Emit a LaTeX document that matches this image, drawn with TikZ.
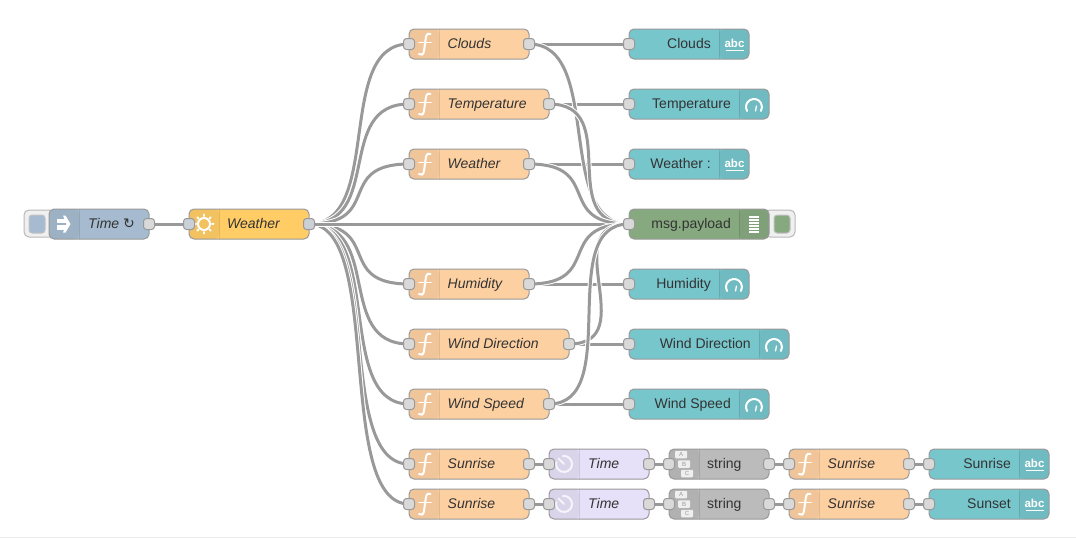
\documentclass[tikz,border=0pt]{standalone}
\usepackage{fontspec}
\setmainfont{Liberation Sans}
\newfontfamily\symfont{DejaVu Sans}
\usetikzlibrary{backgrounds}

\definecolor{fncolor}{HTML}{FDD0A2}
\definecolor{sensorcolor}{HTML}{FFCC66}
\definecolor{injectcolor}{HTML}{A6BBCF}
\definecolor{uicolor}{HTML}{77C6CC}
\definecolor{debugcolor}{HTML}{87A980}
\definecolor{timecolor}{HTML}{E6E0F8}
\definecolor{stringcolor}{HTML}{BBBBBB}
\definecolor{edgecolor}{HTML}{999999}
\definecolor{portcolor}{HTML}{D9D9D9}
\definecolor{inkcolor}{HTML}{333333}

\tikzset{
    flow/.style = {%
        draw = edgecolor, line width = 1pt, rounded corners = 5pt,
        minimum height = 30pt, inner sep = 0pt, outer sep = 0pt, anchor = west
    },
    shadeleft/.style = {%
        flow,
        path picture = {%
            \fill[black, opacity = 0.05] (path picture bounding box.north west)
                rectangle ([xshift = 30pt]path picture bounding box.south west);
            \draw[black, opacity = 0.1] ([xshift = 30pt]path picture bounding box.north west)
                -- ([xshift = 30pt]path picture bounding box.south west);
        }
    },
    shaderight/.style = {%
        flow,
        path picture = {%
            \fill[black, opacity = 0.05] (path picture bounding box.north east)
                rectangle ([xshift = -30pt]path picture bounding box.south east);
            \draw[black, opacity = 0.1] ([xshift = -30pt]path picture bounding box.north east)
                -- ([xshift = -30pt]path picture bounding box.south east);
        }
    },
    leftlabel/.style = {%
        anchor = base west, inner sep = 0pt, text = inkcolor,
        font = \fontsize{14}{16}\selectfont\itshape
    },
    plainlabel/.style = {leftlabel, font = \fontsize{14}{16}\selectfont},
    rightlabel/.style = {plainlabel, anchor = base east},
    port/.style = {%
        draw = edgecolor, line width = 1pt, fill = portcolor, rounded corners = 3pt,
        minimum size = 11pt, inner sep = 0pt, outer sep = 0pt
    },
    blueport/.style = {port, fill = portcolor!70!injectcolor},
    wire/.style = {%
        draw = edgecolor, line width = 3pt,
        preaction = {draw = white, line width = 5pt},
        to path = {.. controls +(75,0) and +(-75,0) .. (\tikztotarget)}
    },
    button/.style = {%
        draw = edgecolor!70, line width = 1pt, fill = black!6, rounded corners = 5pt,
        minimum width = 30pt, minimum height = 27pt, inner sep = 0pt
    },
    buttonface/.style = {%
        draw = edgecolor!60, line width = 1pt, rounded corners = 3pt,
        minimum width = 16pt, minimum height = 18pt, inner sep = 0pt
    },
    iconline/.style = {draw = white, line width = 2pt, line cap = round},
    letterbox/.style = {%
        fill = white, fill opacity = 0.8, text opacity = 1, rounded corners = 1pt,
        minimum width = 12pt, minimum height = 7.5pt, inner sep = 0pt,
        text = edgecolor, font = \fontsize{6}{6}\selectfont
    },
    pics/fnicon/.style = {code = {%
        \draw[iconline] (21.5,-10) .. controls (17.5,-11.5) and (17,-8) .. (16.5,-4)
            -- (15,7) .. controls (14.5,11) and (12,11.5) .. (10,10);
        \draw[iconline, line width = 1.5pt] (10,-1.5) -- (22,-1.5);
    }},
    pics/clockicon/.style = {code = {%
        \draw[iconline, opacity = 0.75] (15,0) ++(262:8) arc[start angle = 262, end angle = 555, radius = 8];
        \draw[iconline, opacity = 0.75] (15,0) -- ++(-5.5,-5.5);
    }},
    pics/sunicon/.style = {code = {%
        \draw[iconline] (15,0) circle (6);
        \foreach\a in {0, 45, ..., 315}{%
            \draw[iconline] (15,0) ++(\a:8) -- ++(\a:1.5);
        }
    }},
    pics/arrowicon/.style = {code = {%
        \fill[white] (8,-5.5) rectangle (17,-1);
        \fill[white] (8,1) rectangle (17,5.5);
        \fill[white] (14,-8.5) -- (16.5,-8.5) -- (21.5,0) -- (16.5,8.5) -- (14,8.5) -- (17.5,0) -- cycle;
    }},
    pics/abcicon/.style = {code = {%
        \node[text = white, inner sep = 0pt, font = \fontsize{11.5}{12}\selectfont\bfseries] (-abc) at (-14.5,-1) {abc};
        \draw[draw = white, line width = 1.5pt] (-23.5,6.5) -- (-5.5,6.5);
    }},
    pics/gaugeicon/.style = {code = {%
        \draw[iconline] (-15,3) ++(150:8) arc[start angle = 150, end angle = 390, radius = 8];
        \draw[iconline, line width = 1.3pt] (-13.5,7) -- (-12.5,2);
    }},
    pics/listicon/.style = {code = {%
        \foreach\y in {-7, -4, -1, 2, 5, 8}{%
            \draw[draw = white, line width = 1.4pt] (-20,\y) -- (-10,\y);
        }
    }},
    pics/lettericon/.style = {code = {%
        \node[letterbox] (-a) at (12,-9.5) {A};
        \node[letterbox] (-b) at (15,0) {B};
        \node[letterbox] (-c) at (18,9.5) {C};
    }}
}

\begin{document}
\begin{tikzpicture}[x = 1pt, y = -1pt]

    \useasboundingbox (0,0) rectangle (1076,538);

    % Faint rule along the bottom edge.
    \draw[black!8, line width = 1pt] (0,537.5) -- (1076,537.5);

    % The two nodes with a button sticking out.
    \node[button] (timebutton) at (39,223.5) {};
    \node[buttonface, fill = injectcolor] (timeface) at (37,224) {};
    \node[button] (debugbutton) at (780,223.5) {};
    \node[buttonface, fill = debugcolor] (debugface) at (782,224) {};

    % Time and the weather request.
    \node[shadeleft, fill = injectcolor, minimum width = 100pt] (time) at (49,224) {};
    \node[leftlabel] (timelabel) at ([shift = {(39,4.7)}]time.west) {Time {\symfont\char"21BB}};
    \node[shadeleft, fill = sensorcolor, minimum width = 120pt] (request) at (189,224) {};
    \node[leftlabel] (requestlabel) at ([shift = {(38,4.7)}]request.west) {Weather};
    \pic at (time.west) {arrowicon};
    \pic at (request.west) {sunicon};

    % The function nodes.
    \foreach\id/\x/\y/\w/\lab in {%
        clouds/409/44/120/Clouds, temp/409/104/140/Temperature,
        cond/409/164/120/Weather, humid/409/284/120/Humidity,
        dir/409/344/160/Wind Direction, speed/409/404/140/Wind Speed,
        risefn/409/464/120/Sunrise, setfn/409/504/120/Sunrise,
        riselast/789/464/120/Sunrise, setlast/789/504/120/Sunrise}{%
        \node[shadeleft, fill = fncolor, minimum width = \w pt] (\id) at (\x,\y) {};
        \node[leftlabel] (\id-label) at ([shift = {(38.5,4.7)}]\id.west) {\lab};
        \pic at (\id.west) {fnicon};
    }

    % The timestamp formatters.
    \foreach\id/\y in {risetime/464, settime/504}{%
        \node[shadeleft, fill = timecolor, minimum width = 100pt] (\id) at (549,\y) {};
        \node[leftlabel] (\id-label) at ([shift = {(39,4.7)}]\id.west) {Time};
        \pic at (\id.west) {clockicon};
    }

    % The string nodes.
    \foreach\id/\y in {risestr/464, setstr/504}{%
        \node[shadeleft, fill = stringcolor, minimum width = 100pt] (\id) at (669,\y) {};
        \node[plainlabel] (\id-label) at ([shift = {(38,4.7)}]\id.west) {string};
        \pic (\id) at (\id.west) {lettericon};
    }

    % The dashboard widgets with text.
    \foreach\id/\x/\y/\w/\lab in {%
        cloudsui/629/44/120/Clouds, condui/629/164/120/Weather :,
        riseui/929/464/120/Sunrise, setui/929/504/120/Sunset}{%
        \node[shaderight, fill = uicolor, minimum width = \w pt] (\id) at (\x,\y) {};
        \node[rightlabel] (\id-label) at ([shift = {(-38,4.7)}]\id.east) {\lab};
        \pic (\id) at (\id.east) {abcicon};
    }

    % The dashboard gauges.
    \foreach\id/\y/\w/\lab in {%
        tempui/104/140/Temperature, humidui/284/120/Humidity,
        dirui/344/160/Wind Direction, speedui/404/140/Wind Speed}{%
        \node[shaderight, fill = uicolor, minimum width = \w pt] (\id) at (629,\y) {};
        \node[rightlabel] (\id-label) at ([shift = {(-38,4.7)}]\id.east) {\lab};
        \pic at (\id.east) {gaugeicon};
    }

    % The debug node.
    \node[shaderight, fill = debugcolor, minimum width = 140pt] (debug) at (629,224) {};
    \node[rightlabel] (debuglabel) at ([shift = {(-38,4.7)}]debug.east) {msg.payload};
    \pic at (debug.east) {listicon};

    % Ports on the left of the nodes.
    \foreach\id in {clouds, temp, cond, humid, dir, speed, risefn, setfn,
        riselast, setlast, risetime, settime, risestr, setstr, cloudsui, condui,
        riseui, setui, tempui, humidui, dirui, speedui, debug}{%
        \node[port] (\id-in) at (\id.west) {};
    }

    % Ports on the right of the nodes.
    \foreach\id in {time, clouds, temp, cond, humid, dir, speed, risefn, setfn,
        riselast, setlast, risetime, settime, risestr, setstr}{%
        \node[port] (\id-out) at (\id.east) {};
    }
    \node[blueport] (request-in) at (request.west) {};
    \node[blueport] (request-out) at (request.east) {};

    \begin{scope}[on background layer]
        % Wires from the weather request.
        \draw[wire] (time-out.center) to (request-in.center);
        \foreach\id in {clouds, temp, cond, humid, dir, speed, risefn, setfn, debug}{%
            \draw[wire] (request-out.center) to (\id-in.center);
        }

        % Straight wires to the dashboard.
        \foreach\a/\b in {clouds/cloudsui, temp/tempui, cond/condui, humid/humidui,
            dir/dirui, speed/speedui, risefn/risetime, setfn/settime,
            risetime/risestr, settime/setstr, risestr/riselast, setstr/setlast,
            riselast/riseui, setlast/setui}{%
            \draw[wire] (\a-out.center) to (\b-in.center);
        }

        % Wires into the debug node.
        \foreach\id in {clouds, temp, cond, humid, dir, speed}{%
            \draw[wire] (\id-out.center) to (debug-in.center);
        }
    \end{scope}
\end{tikzpicture}
\end{document}
